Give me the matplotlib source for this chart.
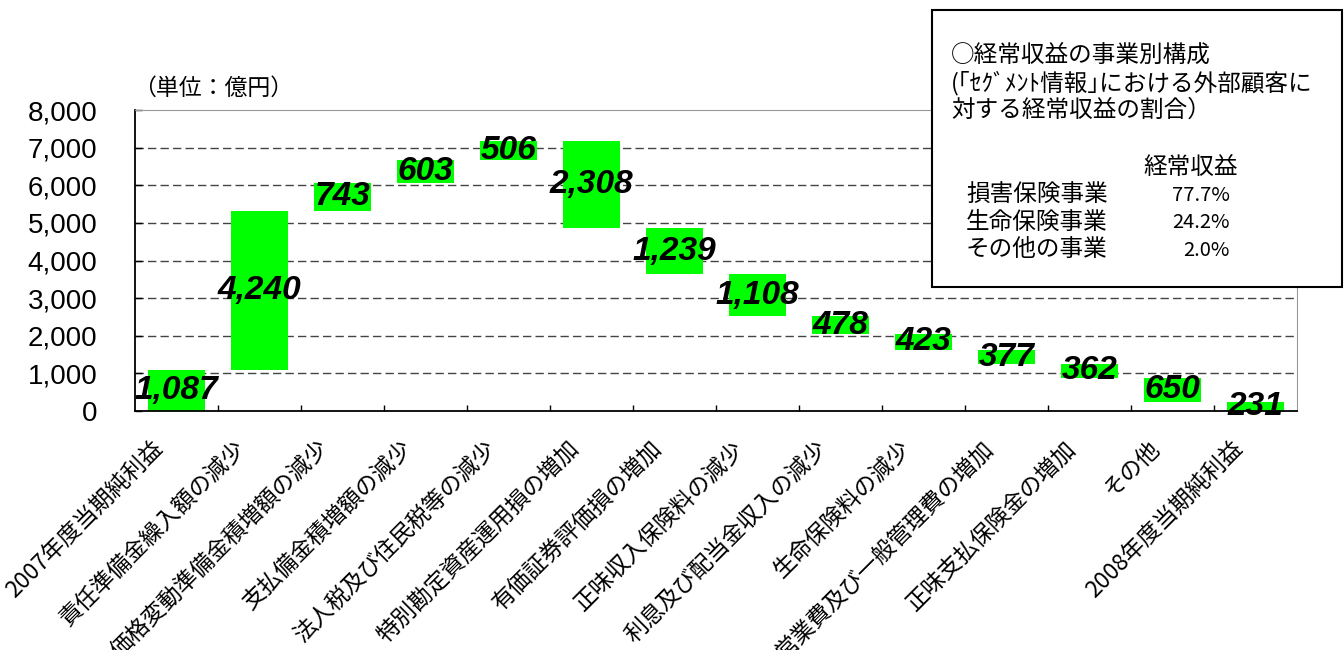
import matplotlib
matplotlib.use("Agg")
import matplotlib.pyplot as plt
from matplotlib.patches import Rectangle
from matplotlib.transforms import blended_transform_factory

plt.rcParams["font.family"] = ["Noto Sans CJK JP", "DejaVu Sans"]

# waterfall items (億円)
categories = [
    "2007年度当期純利益",
    "責任準備金繰入額の減少",
    "価格変動準備金積増額の減少",
    "支払備金積増額の減少",
    "法人税及び住民税等の減少",
    "特別勘定資産運用損の増加",
    "有価証券評価損の増加",
    "正味収入保険料の減少",
    "利息及び配当金収入の減少",
    "生命保険料の減少",
    "営業費及び一般管理費の増加",
    "正味支払保険金の増加",
    "その他",
    "2008年度当期純利益",
]
values = [1087, 4240, 743, 603, 506, 2308, 1239, 1108, 478, 423, 377, 362, 650, 231]
kinds = ["total", "up", "up", "up", "up", "down", "down", "down",
         "down", "down", "down", "down", "down", "total"]
value_labels = ["1,087", "4,240", "743", "603", "506", "2,308", "1,239",
                "1,108", "478", "423", "377", "362", "650", "231"]

y_ticks = [0, 1000, 2000, 3000, 4000, 5000, 6000, 7000, 8000]
y_ticklabels = ["0", "1,000", "2,000", "3,000", "4,000", "5,000",
                "6,000", "7,000", "8,000"]

# segment table
seg_names = ["損害保険事業", "生命保険事業", "その他の事業"]
seg_shares = ["77.7%", "24.2%", "2.0%"]

# bar bottoms from running total
bottoms = []
running = 0
for v, k in zip(values, kinds):
    if k == "total":
        bottoms.append(0)
        running = v
    elif k == "up":
        bottoms.append(running)
        running += v
    else:
        running -= v
        bottoms.append(running)

fig = plt.figure(figsize=(13.44, 6.5), dpi=100)
ax = fig.add_axes([135 / 1344, 1 - 411 / 650, (1297 - 135) / 1344, (411 - 110) / 650])

x = list(range(len(categories)))
ax.bar(x, values, bottom=bottoms, width=0.68, color="#00ff00", zorder=2)

for i, (v, b, lab) in enumerate(zip(values, bottoms, value_labels)):
    ax.text(i, b + v / 2, lab, ha="center", va="center", fontsize=24,
            fontweight="bold", fontstyle="italic",
            family=["Liberation Sans", "DejaVu Sans"], color="black", zorder=3)

ax.set_xlim(-0.5, len(categories) - 0.5)
ax.set_ylim(0, 8000)
ax.set_yticks(y_ticks)
ax.set_yticklabels(y_ticklabels, family=["Liberation Sans", "DejaVu Sans"], fontsize=20)
ax.tick_params(axis="y", direction="in", length=5, width=1, pad=27)
ax.set_xticks([i + 0.5 for i in x[:-1]])
ax.set_xticklabels([])
ax.tick_params(axis="x", direction="in", length=4, width=1)

for yv in y_ticks[1:-1]:
    ax.axhline(yv, color="#444444", linewidth=1, linestyle=(0, (6, 3)), zorder=1)

ax.spines["left"].set_color("black")
ax.spines["bottom"].set_color("black")
ax.spines["left"].set_linewidth(1.3)
ax.spines["bottom"].set_linewidth(1.3)
ax.spines["top"].set_color("#999999")
ax.spines["right"].set_color("#999999")

# rotated category labels
trans = blended_transform_factory(ax.transData, ax.transAxes)
for i, name in enumerate(categories):
    ax.text(i - 0.3, -0.085, name, transform=trans, rotation=45,
            rotation_mode="anchor", ha="right", va="top", fontsize=16.5)

fig.text(133 / 1344, 1 - 88 / 650, "（単位：億円）", ha="left", va="center", fontsize=16.5)

# segment info box
box = Rectangle((932 / 1344, 1 - 287 / 650), (1342 - 932) / 1344, (287 - 10) / 650,
                transform=fig.transFigure, facecolor="white", edgecolor="black",
                linewidth=1.5, zorder=5)
fig.add_artist(box)

header_lines = ["○経常収益の事業別構成",
                "(｢ｾｸﾞﾒﾝﾄ情報｣における外部顧客に",
                "対する経常収益の割合）"]
for line, yp in zip(header_lines, [55, 83, 110]):
    fig.text(951 / 1344, 1 - yp / 650, line, ha="left", va="center",
             fontsize=17, zorder=6)

fig.text(1191 / 1344, 1 - 167 / 650, "経常収益", ha="center", va="center",
         fontsize=17, zorder=6)
for name, share, yp in zip(seg_names, seg_shares, [195, 222, 250]):
    fig.text(966 / 1344, 1 - yp / 650, name, ha="left", va="center",
             fontsize=17, zorder=6)
    fig.text(1230 / 1344, 1 - yp / 650, share, ha="right", va="center",
             fontsize=14.5, zorder=6)

fig.savefig("out.png", dpi=100)
